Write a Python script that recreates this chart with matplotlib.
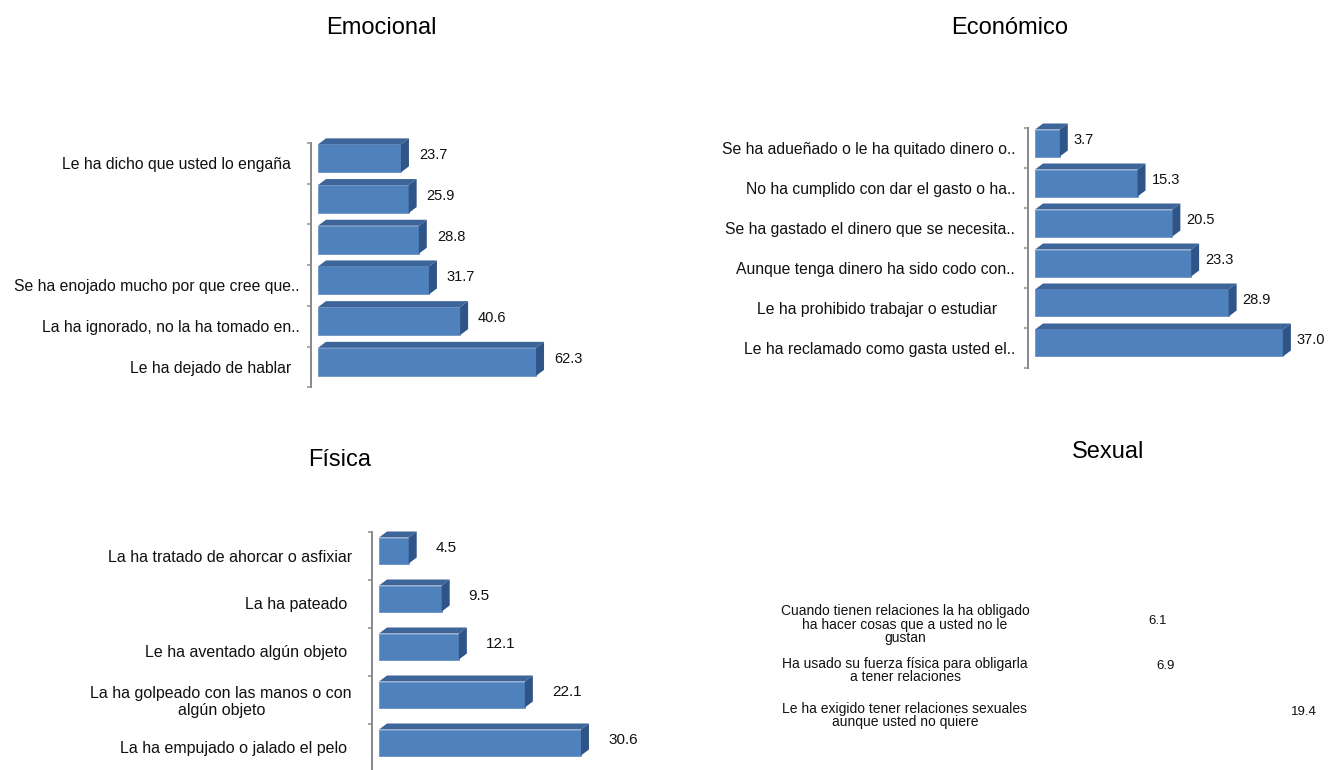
import numpy as np
import matplotlib.pyplot as plt
from matplotlib.patches import Polygon

plt.rcParams['font.family'] = ['Liberation Sans', 'DejaVu Sans']

# Emocional
emo_labels = ["Le ha dicho que usted lo engaña  ", "", "",
              "Se ha enojado mucho por que cree que..",
              "La ha ignorado, no la ha tomado en..",
              "Le ha dejado de hablar  "]
emo_values = [23.7, 25.9, 28.8, 31.7, 40.6, 62.3]

# Económico
eco_labels = ["Se ha adueñado o le ha quitado dinero o..",
              "No ha cumplido con dar el gasto o ha..",
              "Se ha gastado el dinero que se necesita..",
              "Aunque tenga dinero ha sido codo con..",
              "Le ha prohibido trabajar o estudiar    ",
              "Le ha reclamado como gasta usted el.."]
eco_values = [3.7, 15.3, 20.5, 23.3, 28.9, 37.0]

# Física
fis_labels = ["La ha tratado de ahorcar o asfixiar",
              "La ha pateado ",
              "Le ha aventado algún objeto ",
              "La ha golpeado con las manos o con\nalgún objeto",
              "La ha empujado o jalado el pelo "]
fis_values = [4.5, 9.5, 12.1, 22.1, 30.6]

# Sexual
sex_labels = ["Cuando tienen relaciones la ha obligado\nha hacer cosas que a usted no le\ngustan",
              "Ha usado su fuerza física para obligarla\na tener relaciones",
              "Le ha exigido tener relaciones sexuales\naunque usted no quiere"]
sex_values = [6.1, 6.9, 19.4]

W, H = 1341, 770
fig = plt.figure(figsize=(W / 100, H / 100), dpi=100)

FRONT = '#4f81bd'
TOP = '#3d659a'
SIDE = '#2f5487'
PX = 72 / 100  # points per pixel


def make_axes(x0, top, width, slot, n, scale):
    ax = fig.add_axes([x0 / W, 1 - (top + n * slot) / H, width / W, n * slot / H])
    ax.set_xlim(0, width / scale)
    ax.set_ylim(n - 0.5, -0.5)
    return ax


def bars3d(ax, labels, values, scale, slot, front_h, gap, pad, fsize, vsize):
    n = len(values)
    pos = np.arange(n)
    up = 5 / slot
    dx = 8 / scale
    dy = 6 / slot
    fh = front_h / slot
    ax.barh(pos - up, values, height=fh, color=FRONT, edgecolor='#6d95c8', linewidth=0.6)
    for y, v in zip(pos - up, values):
        yt, yb = y - fh / 2, y + fh / 2
        ax.add_patch(Polygon([(0, yt), (v, yt), (v + dx, yt - dy), (dx, yt - dy)],
                             closed=True, fc=TOP, ec='none', clip_on=False))
        ax.add_patch(Polygon([(v, yt), (v + dx, yt - dy), (v + dx, yb - dy), (v, yb)],
                             closed=True, fc=SIDE, ec='none', clip_on=False))
        ax.text(v + dx + gap / scale, y - dy / 2, f"{v:.1f}", va='center', ha='left',
                fontsize=vsize, color='#111111')
    for s in ['top', 'right', 'bottom']:
        ax.spines[s].set_visible(False)
    ax.spines['left'].set_position(('outward', 7 * PX))
    ax.spines['left'].set_color('#8c8c8c')
    ax.spines['left'].set_linewidth(2 * PX)
    ax.set_xticks([])
    ax.set_yticks(pos)
    ax.set_yticklabels(labels, fontsize=fsize, color='#111111')
    ax.set_yticks(np.arange(n + 1) - 0.5, minor=True)
    ax.tick_params(axis='y', which='major', length=0, pad=pad * PX)
    ax.tick_params(axis='y', which='minor', length=4 * PX, width=1.5 * PX, color='#8c8c8c')
    for t in ax.get_yticklabels():
        t.set_multialignment('center')


ax1 = make_axes(318, 143, 300, 40.7, 6, 3.5)
bars3d(ax1, emo_labels, emo_values, 3.5, 40.7, 28, 10, 11, 11.3, 10.5)
fig.text(381 / W, 1 - 28 / H, "Emocional", ha='center', va='center', fontsize=17)

ax2 = make_axes(1035, 128, 300, 40, 6, 6.7)
bars3d(ax2, eco_labels, eco_values, 6.7, 40, 27, 6, 13, 11.3, 10.5)
fig.text(1010 / W, 1 - 28 / H, "Económico", ha='center', va='center', fontsize=17)

ax3 = make_axes(379, 531.5, 300, 48, 5, 6.6)
bars3d(ax3, fis_labels, fis_values, 6.6, 48, 26, 19, 20, 11.5, 11)
fig.text(340 / W, 1 - 460 / H, "Física", ha='center', va='center', fontsize=17)

# sexual panel: bars are transparent, only labels and values show
ax4 = make_axes(1073, 602, 260, 45.5, 3, 10.7)
pos4 = np.arange(len(sex_values))
ax4.barh(pos4, sex_values, height=0.6, color='none')
for y, v in zip(pos4, sex_values):
    ax4.text(v + 10 / 10.7, y - 4 / 45.5, f"{v:.1f}", va='center', ha='left', fontsize=9.5,
             color='#111111')
ax4.axis('off')
for y, lab in zip(pos4, sex_labels):
    ax4.text(-(1073 - 905) / 10.7, y, lab, ha='center', va='center', fontsize=10,
             linespacing=0.95, color='#111111', clip_on=False)
fig.text(1108 / W, 1 - 452 / H, "Sexual", ha='center', va='center', fontsize=17)

fig.savefig('out.png', dpi=100)
